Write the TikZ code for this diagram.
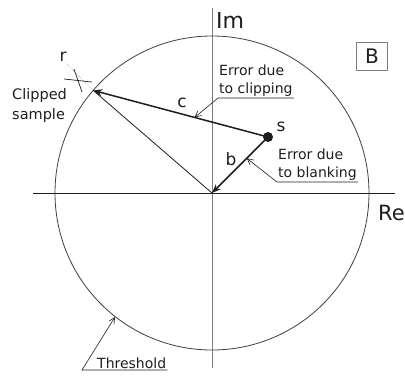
\documentclass[tikz,border=0pt]{standalone}
\usepackage{fontspec}
\setmainfont{DejaVu Sans}
\usepackage{tikz}
\usetikzlibrary{arrows.meta, calc, positioning}
\definecolor{PlotInk}{RGB}{30, 30, 30}
\definecolor{AxisGray}{RGB}{125, 125, 125}
\definecolor{GuideGray}{RGB}{185, 185, 185}

\begin{document}
\begin{tikzpicture}[x=1pt,y=-1pt,
  vec/.style={PlotInk, line width=1.5pt, -{Stealth[length=9pt,width=7pt]}},
  leader/.style={PlotInk, line width=0.6pt, -{Straight Barb[length=6pt,width=6pt]}},
  note/.style={font=\fontsize{14}{18}\selectfont, text=PlotInk, align=left, inner sep=1pt},
  letter/.style={font=\fontsize{17}{20}\selectfont, text=PlotInk, inner sep=0pt}]
  \clip (0,0) rectangle (405,376);

  % axes and threshold circle
  \coordinate (O) at (212,193);
  \draw[AxisGray, line width=0.8pt] (212,8) -- (212,368);
  \draw[PlotInk, line width=0.8pt] (33,193) -- (395,193);
  \draw[PlotInk!85, line width=0.8pt] (O) circle (157);
  \node[font=\fontsize{22}{24}\selectfont, text=PlotInk, anchor=west, inner sep=0pt] (im) at (216,20) {Im};
  \node[font=\fontsize{21}{24}\selectfont, text=PlotInk, anchor=east, inner sep=0pt] (re) at (405,213) {Re};
  \node[draw=AxisGray, line width=0.8pt, font=\fontsize{20}{24}\selectfont, text=PlotInk,
        minimum width=31pt, minimum height=28pt, inner sep=0pt] (panel) at (372,56) {B};

  % samples
  \coordinate (S) at (268,137);
  \coordinate (clip) at (93.2,90.4);
  \coordinate (R) at (77,80);
  \draw[GuideGray, line width=0.7pt, densely dotted] (66,63) -- (clip);
  \draw[PlotInk, line width=0.7pt] (64,79) -- (92,82);
  \draw[PlotInk, line width=0.7pt] (74,69) -- (82,92);
  \node[letter] (rlab) at (63,57) {r};
  \draw[PlotInk, line width=0.8pt] (O) -- (clip);
  \draw[vec] (S) -- (clip);
  \draw[vec] (S) -- (O);
  \fill[PlotInk] (S) circle (5);
  \node[letter] (slab) at (281,127) {s};
  \node[letter] (clab) at (182,103) {c};
  \node[letter] (blab) at (231,159) {b};

  % annotations
  \node[note, font=\fontsize{14.5}{20}\selectfont, anchor=west] (clipped) at (11,105) {Clipped\\sample};

  \coordinate (ctip) at ($(S)!0.42!(clip)$);
  \node[note, anchor=south west] (eclip) at (218,98) {Error due\\to clipping};
  \draw[leader] (eclip.south east) -- (eclip.south west) -- (ctip);

  \coordinate (btip) at ($(S)!0.38!(O)$);
  \node[note, anchor=south west] (eblank) at (277,182) {Error due\\to blanking};
  \draw[leader] (eblank.south east) -- (eblank.south west) -- (btip);

  \coordinate (ttip) at ($(O)+(-97,124)$);
  \node[note, anchor=south west] (thr) at (96,370) {Threshold};
  \draw[leader] (thr.south east) -- ([xshift=-14pt]thr.south west) -- (ttip);
\end{tikzpicture}
\end{document}
